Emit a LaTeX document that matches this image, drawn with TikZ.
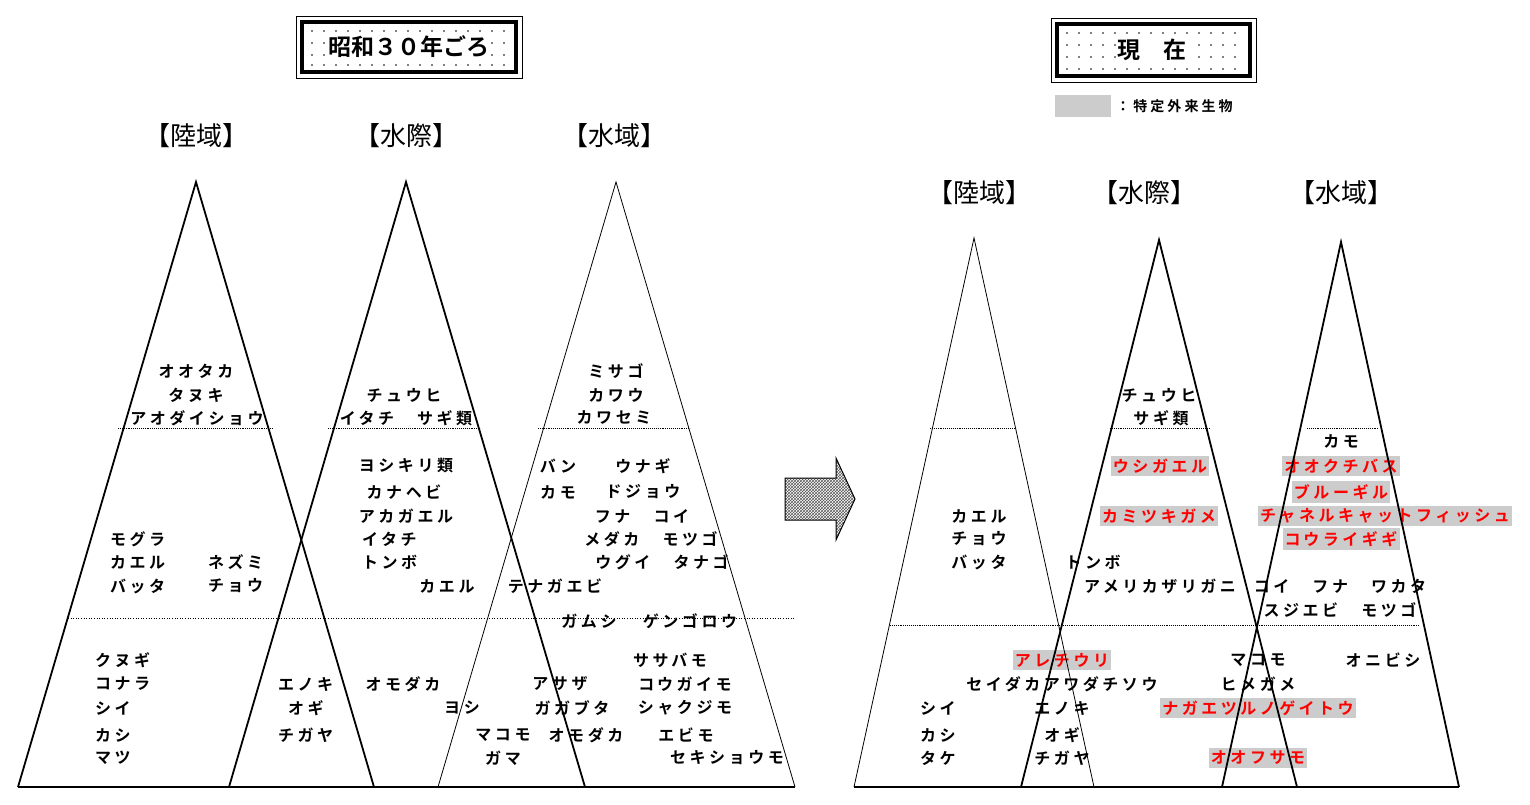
\documentclass[tikz,border=0pt]{standalone}
\usepackage{fontspec}
\setmainfont{Noto Sans CJK JP}[BoldFont=* Bold]
\newfontfamily\jps{Noto Sans CJK JP Bold}[LetterSpace=22]
\newfontfamily\jpb{Noto Sans CJK JP Bold}
\usetikzlibrary{patterns}
\begin{document}
\begin{tikzpicture}[x=1pt,y=-1pt,
  t/.style={inner sep=0pt,font=\jps\fontsize{16}{16}\selectfont},
  tl/.style={t,anchor=west},
  r/.style={t,text=red,fill=gray!40,inner xsep=2pt,inner ysep=3pt},
  hd/.style={inner sep=0pt,font=\fontsize{26}{26}\selectfont},
  thick tri/.style={line width=1.8pt,line join=miter},
  thin tri/.style={line width=0.8pt},
  dline/.style={densely dotted,line width=0.9pt}]
\useasboundingbox (0,0) rectangle (1530,805);
% title boxes
\foreach \a/\b/\c/\d/\n in {296/16/522/78/a,1051/18/1256/82/b}{
  \draw[line width=0.8pt] (\a,\b) rectangle (\c,\d);
  \draw[line width=3.5pt] (\a+6,\b+6) rectangle (\c-6,\d-6);
}
\foreach \x in {312,324,...,506}{\foreach \y in {31,43,55,65}{\fill (\x,\y) circle (0.9pt);}}
\foreach \x in {1067,1079,...,1240}{\foreach \y in {33,45,57,69}{\fill (\x,\y) circle (0.9pt);}}
\node[inner sep=1pt,fill=white,font=\jpb\fontsize{23}{23}\selectfont] (ta) at (409,47) {昭和３０年ごろ};
\node[inner sep=1pt,fill=white,font=\jpb\fontsize{23}{23}\selectfont] (tb) at (1152,50) {現　在};
\fill[gray!40] (1055,95) rectangle (1111,117);
\node[inner sep=0pt,anchor=west,font=\jps\fontsize{14}{14}\selectfont] (lg) at (1116,106) {：特定外来生物};
% arrow
\filldraw[pattern=crosshatch,pattern color=gray!70!black,line width=1pt] (785,478)--(836,478)--(836,458)--(855,499)--(836,540)--(836,520)--(785,520)--cycle;
% gray red labels first
\node[r] (r1) at (1160,466) {ウシガエル};
\node[r] (r2) at (1159,516) {カミツキガメ};
\node[r] (r3) at (1341,466) {オオクチバス};
\node[r] (r4) at (1341,492) {ブルーギル};
\node[r] (r5) at (1385,516) {チャネルキャットフィッシュ};
\node[r] (r6) at (1341,539) {コウライギギ};
\node[r] (r7) at (1062,660) {アレチウリ};
\node[r] (r8) at (1258,708) {ナガエツルノゲイトウ};
\node[r] (r9) at (1258,758) {オオフサモ};
% triangles left
\draw[thick tri] (18,787)--(196,182)--(374,787);
\draw[thick tri] (229,787)--(406,182)--(585,787);
\draw[thin tri] (438,787)--(616,182)--(795,787);
\draw[line width=1.2pt] (18,787)--(795,787);
\draw[dline] (118,428)--(272,428) (328,428)--(480,428) (538,428)--(690,428);
\draw[dotted,line width=0.6pt] (68,618)--(795,618);
% triangles right
\draw[thin tri] (854,787)--(974,238)--(1094,787);
\draw[thick tri] (1021,787)--(1159,240)--(1297,787);
\draw[thick tri] (1222,787)--(1341,242)--(1459,787);
\draw[line width=1.2pt] (854,787)--(1459,787);
\draw[dline] (930,428)--(1014,428) (1110,428)--(1210,428) (1307,428)--(1378,428);
\draw[dline] (890,625)--(1420,625);
% headers
\node[hd] (h1) at (196,136) {【陸域】};
\node[hd] (h2) at (406,136) {【水際】};
\node[hd] (h3) at (614,136) {【水域】};
\node[hd] (h4) at (979,193) {【陸域】};
\node[hd] (h5) at (1144,193) {【水際】};
\node[hd] (h6) at (1341,193) {【水域】};
% left panel texts
\node[t] at (196,371) {オオタカ};
\node[t] at (196,395) {タヌキ};
\node[t] at (197,418) {アオダイショウ};
\node[tl] at (110,539) {モグラ};
\node[tl] at (110,562) {カエル};
\node[tl] at (110,586) {バッタ};
\node[tl] at (208,562) {ネズミ};
\node[tl] at (208,586) {チョウ};
\node[tl] at (95,660) {クヌギ};
\node[tl] at (95,684) {コナラ};
\node[tl] at (95,708) {シイ};
\node[tl] at (95,735) {カシ};
\node[tl] at (95,758) {マツ};
\node[t] at (404,395) {チュウヒ};
\node[t] at (406,418) {イタチ　サギ類};
\node[t] at (406,466) {ヨシキリ類};
\node[t] at (404,492) {カナヘビ};
\node[t] at (406,516) {アカガエル};
\node[tl] at (362,539) {イタチ};
\node[tl] at (362,562) {トンボ};
\node[t] at (447,586) {カエル};
\node[tl] at (278,684) {エノキ};
\node[tl] at (288,708) {オギ};
\node[tl] at (278,735) {チガヤ};
\node[t] at (403,684) {オモダカ};
\node[t] at (462,708) {ヨシ};
\node[t] at (616,371) {ミサゴ};
\node[t] at (616,395) {カワウ};
\node[t] at (614,418) {カワセミ};
\node[t] at (558,466) {バン};
\node[t] at (643,466) {ウナギ};
\node[t] at (558,492) {カモ};
\node[t] at (643,492) {ドジョウ};
\node[t] at (642,516) {フナ　コイ};
\node[t] at (651,539) {メダカ　モツゴ};
\node[t] at (662,562) {ウグイ　タナゴ};
\node[t] at (555,586) {テナガエビ};
\node[t] at (589,621) {ガムシ};
\node[t] at (690,621) {ゲンゴロウ};
\node[t] at (670,660) {ササバモ};
\node[t] at (560,684) {アサザ};
\node[t] at (685,684) {コウガイモ};
\node[t] at (572,708) {ガガブタ};
\node[t] at (685,708) {シャクジモ};
\node[t] at (503,735) {マコモ};
\node[t] at (586,735) {オモダカ};
\node[t] at (686,735) {エビモ};
\node[t] at (503,758) {ガマ};
\node[t] at (727,758) {セキショウモ};
% right panel texts
\node[t] at (979,516) {カエル};
\node[t] at (979,539) {チョウ};
\node[t] at (979,562) {バッタ};
\node[t] at (1159,395) {チュウヒ};
\node[t] at (1161,418) {サギ類};
\node[t] at (1093,562) {トンボ};
\node[t] at (1160,586) {アメリカザリガニ};
\node[t] at (1341,441) {カモ};
\node[t] at (1340,586) {コイ　フナ　ワカタ};
\node[t] at (1340,610) {スジエビ　モツゴ};
\node[t] at (1062,684) {セイダカアワダチソウ};
\node[tl] at (920,708) {シイ};
\node[tl] at (920,735) {カシ};
\node[tl] at (920,758) {タケ};
\node[t] at (1062,708) {エノキ};
\node[t] at (1062,735) {オギ};
\node[t] at (1062,758) {チガヤ};
\node[t] at (1258,660) {マコモ};
\node[t] at (1258,684) {ヒメガメ};
\node[t] at (1383,660) {オニビシ};
\end{tikzpicture}
\end{document}
